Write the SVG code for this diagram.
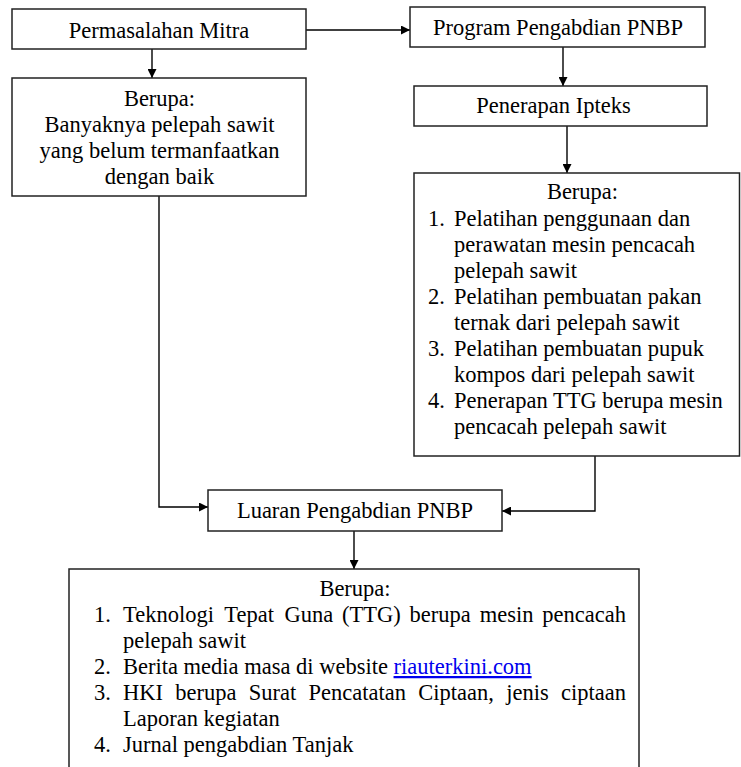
<svg xmlns="http://www.w3.org/2000/svg" width="741" height="767" viewBox="0 0 741 767" font-family="Liberation Serif, Times New Roman, serif" font-size="22.5">
<style>
.box{fill:#fff;stroke:#222;stroke-width:1.5}
.t{fill:#000}
.c{text-anchor:middle}
.e{text-anchor:end}
.ln{fill:none;stroke:#000;stroke-width:1.4}
.link{fill:#0000ee;text-decoration:underline}
</style>
<defs>
<marker id="ah" viewBox="0 0 10 10" refX="10" refY="5" markerWidth="9" markerHeight="9" markerUnits="userSpaceOnUse" orient="auto">
<path d="M0,0 L10,5 L0,10 z" fill="#000"/>
</marker>
</defs>
<rect width="741" height="767" fill="#fff"/>
<g id="connectors">
<path class="ln" d="M306,30 H410" marker-end="url(#ah)"/>
<path class="ln" d="M152,49 V78" marker-end="url(#ah)"/>
<path class="ln" d="M563,47 V86" marker-end="url(#ah)"/>
<path class="ln" d="M567,126 V173" marker-end="url(#ah)"/>
<path class="ln" d="M159,196 V507 H208" marker-end="url(#ah)"/>
<path class="ln" d="M595,456 V511 H502" marker-end="url(#ah)"/>
<path class="ln" d="M354,531 V569" marker-end="url(#ah)"/>
</g>
<g id="permasalahan" font-family="Liberation Serif, serif">
<rect class="box" x="12" y="9" width="294" height="40"/>
<text class="t c" x="159" y="38">Permasalahan Mitra</text>
</g>
<g id="berupa-masalah" font-family="Liberation Serif, serif">
<rect class="box" x="12" y="78" width="294" height="118"/>
<text class="t c" x="159.5" y="106">Berupa:</text>
<text class="t c" x="159.5" y="132">Banyaknya pelepah sawit</text>
<text class="t c" x="159.5" y="158">yang belum termanfaatkan</text>
<text class="t c" x="159.5" y="184">dengan baik</text>
</g>
<g id="program" font-family="Liberation Serif, serif">
<rect class="box" x="410" y="7" width="295" height="40"/>
<text class="t c" x="558" y="35">Program Pengabdian PNBP</text>
</g>
<g id="penerapan" font-family="Liberation Serif, serif">
<rect class="box" x="414" y="86" width="293" height="40"/>
<text class="t c" x="553.5" y="113">Penerapan Ipteks</text>
</g>
<g id="berupa-ipteks" font-family="Liberation Serif, serif">
<rect class="box" x="414" y="173" width="325.5" height="283"/>
<text class="t c" x="582.5" y="199">Berupa:</text>
<text class="t" x="428" y="226">1.</text>
<text class="t" x="454" y="226">Pelatihan penggunaan dan</text>
<text class="t" x="454" y="252">perawatan mesin pencacah</text>
<text class="t" x="454" y="278">pelepah sawit</text>
<text class="t" x="428" y="304">2.</text>
<text class="t" x="454" y="304">Pelatihan pembuatan pakan</text>
<text class="t" x="454" y="330">ternak dari pelepah sawit</text>
<text class="t" x="428" y="356">3.</text>
<text class="t" x="454" y="356">Pelatihan pembuatan pupuk</text>
<text class="t" x="454" y="382">kompos dari pelepah sawit</text>
<text class="t" x="428" y="408">4.</text>
<text class="t" x="454" y="408">Penerapan TTG berupa mesin</text>
<text class="t" x="454" y="434">pencacah pelepah sawit</text>
</g>
<g id="luaran" font-family="Liberation Serif, serif">
<rect class="box" x="208" y="490" width="294" height="41"/>
<text class="t c" x="355" y="518">Luaran Pengabdian PNBP</text>
</g>
<g id="berupa-luaran" font-family="Liberation Serif, serif">
<rect class="box" x="69" y="569" width="570" height="210"/>
<text class="t c" x="355" y="596">Berupa:</text>
<text class="t" x="94" y="622">1.</text>
<text class="t" y="622"><tspan x="123">Teknologi</tspan><tspan x="224.35">Tepat</tspan><tspan x="284.43">Guna</tspan><tspan x="342.02">(TTG)</tspan><tspan x="409.6">berupa</tspan><tspan x="479.68">mesin</tspan></text>
<text class="t e" x="626" y="622">pencacah</text>
<text class="t" x="123" y="648">pelepah sawit</text>
<text class="t" x="94" y="674">2.</text>
<text class="t" x="123" y="674">Berita media masa di website <tspan class="link">riauterkini.com</tspan></text>
<text class="t" x="94" y="700">3.</text>
<text class="t" y="700"><tspan x="123">HKI</tspan><tspan x="175.26">berupa</tspan><tspan x="248.77">Surat</tspan><tspan x="308.55">Pencatatan</tspan><tspan x="418.31">Ciptaan,</tspan><tspan x="506.22">jenis</tspan></text>
<text class="t e" x="626" y="700">ciptaan</text>
<text class="t" x="123" y="726">Laporan kegiatan</text>
<text class="t" x="94" y="752">4.</text>
<text class="t" x="123" y="752">Jurnal pengabdian Tanjak</text>
</g>
</svg>
